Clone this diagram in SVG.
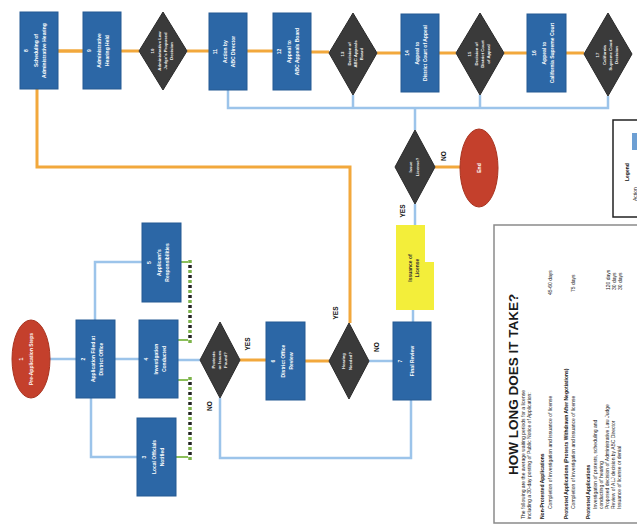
<svg xmlns="http://www.w3.org/2000/svg" width="637" height="528" viewBox="0 0 637 528">
<style>
.box{fill:#2c67a6;stroke:#245a93;stroke-width:1}
.dia{fill:#3a3a3a;stroke:#2a2a2a;stroke-width:1}
.oval{fill:#c4402c;stroke:#a8331f;stroke-width:1}
.note{fill:#f3ee3a}
.nt{font-family:"Liberation Sans",Arial,sans-serif;font-size:5px;font-weight:bold;fill:#fff;text-anchor:middle}
.dt{font-family:"Liberation Sans",Arial,sans-serif;font-size:4.3px;font-weight:bold;fill:#eee;text-anchor:middle}
.yt{font-family:"Liberation Sans",Arial,sans-serif;font-size:5px;font-weight:bold;fill:#333;text-anchor:middle}
.lbl{font-family:"Liberation Sans",Arial,sans-serif;font-size:6.5px;font-weight:bold;fill:#111;text-anchor:middle}
.or{fill:none;stroke:#f2a83c;stroke-width:3}
.bl{fill:none;stroke:#9cc4ea;stroke-width:2.5}
.gd{fill:none;stroke:#7cb34a;stroke-width:3.5;stroke-dasharray:3 7}
.kd{fill:none;stroke:#222;stroke-width:3.5;stroke-dasharray:3 7;stroke-dashoffset:-5}
.gs{fill:none;stroke:#8cbf5a;stroke-width:2}
.pt{font-family:"Liberation Sans",Arial,sans-serif;font-size:5px;fill:#222}
.pb{font-family:"Liberation Sans",Arial,sans-serif;font-size:5px;font-weight:bold;fill:#111}
.ttl{font-family:"Liberation Sans",Arial,sans-serif;font-size:13.5px;font-weight:bold;fill:#1a1a1a}
</style>
<rect width="637" height="528" fill="#fff"/>

<g id="connectors">
  <!-- top row orange -->
  <path class="or" d="M58 51 H139 M121 51 H139 M187 51 H209 M247 51 H273 M311 52 H329 M377 53 H401 M439 53 H456 M504 53 H527 M566 53 H584"/>
  <path class="or" d="M58 51 H83"/>
  <!-- hearing loop orange -->
  <path class="or" d="M37 89 V167 H350 V323"/>
  <!-- top blue -->
  <path class="bl" d="M228 90 V108 H608 V96 M353 95 V108 M480 95 V108 M415 108 V130"/>
  <!-- middle blue -->
  <path class="bl" d="M50 359 H76 M115 359 H139 M178 360 H200"/>
  <path class="bl" d="M95 320 V262 H142"/>
  <path class="bl" d="M91 398 V457 H137"/>
  <path class="bl" d="M220 398 V458 H411 V400"/>
  <path class="bl" d="M369 361 H393"/>
  <path class="bl" d="M413 322 V310"/>
  <path class="bl" d="M415 204 V225"/>
  <!-- middle orange -->
  <path class="or" d="M240 360 H266 M305 361 H329 M435 167 H460"/>
  <!-- green dotted -->
  <path class="gd" d="M190 260 V343 M190 377 V460"/>
  <path class="kd" d="M190 260 V343 M190 377 V460"/>
  <path class="gs" d="M181 262 H188 M178 340 H188 M178 380 H188 M176 457 H188"/>
  <!-- labels -->
  <text class="lbl" transform="translate(250 344) rotate(-90)">YES</text>
  <text class="lbl" transform="translate(212 406) rotate(-90)">NO</text>
  <text class="lbl" transform="translate(338 313) rotate(-90)">YES</text>
  <text class="lbl" transform="translate(379 347) rotate(-90)">NO</text>
  <text class="lbl" transform="translate(405 211) rotate(-90)">YES</text>
  <text class="lbl" transform="translate(446 156) rotate(-90)">NO</text>
</g>

<g id="n1"><ellipse class="oval" cx="31" cy="359" rx="19" ry="39"/>
<text class="nt" transform="translate(31 359) rotate(-90)"><tspan x="0" y="-8">1</tspan><tspan x="0" y="2">Pre-Application Steps</tspan></text></g>

<g id="n2"><rect class="box" x="76" y="320" width="39" height="78"/>
<text class="nt" transform="translate(95.5 359) rotate(-90)"><tspan x="0" y="-11">2</tspan><tspan x="0" y="-1">Application Filed at</tspan><tspan x="0" y="7">District Office</tspan></text></g>

<g id="n3"><rect class="box" x="137" y="418" width="39" height="78"/>
<text class="nt" transform="translate(156.5 457) rotate(-90)"><tspan x="0" y="-11">3</tspan><tspan x="0" y="-1">Local Officials</tspan><tspan x="0" y="7">Notified</tspan></text></g>

<g id="n4"><rect class="box" x="139" y="320" width="39" height="78"/>
<text class="nt" transform="translate(158.5 359) rotate(-90)"><tspan x="0" y="-11">4</tspan><tspan x="0" y="-1">Investigation</tspan><tspan x="0" y="7">Conducted</tspan></text></g>

<g id="n5"><rect class="box" x="142" y="223" width="39" height="79"/>
<text class="nt" transform="translate(161.5 262.5) rotate(-90)"><tspan x="0" y="-11">5</tspan><tspan x="0" y="-1">Applicant's</tspan><tspan x="0" y="7">Responsibilities</tspan></text></g>

<g id="dA"><polygon class="dia" points="220,322 240,360 220,398 200,360"/>
<text class="dt" transform="translate(220 360) rotate(-90)"><tspan x="0" y="-5">Protests</tspan><tspan x="0" y="1">or Issues</tspan><tspan x="0" y="7">Found?</tspan></text></g>

<g id="n6"><rect class="box" x="266" y="322" width="39" height="78"/>
<text class="nt" transform="translate(285.5 361) rotate(-90)"><tspan x="0" y="-11">6</tspan><tspan x="0" y="-1">District Office</tspan><tspan x="0" y="7">Review</tspan></text></g>

<g id="dB"><polygon class="dia" points="349,323 369,361 349,399 329,361"/>
<text class="dt" transform="translate(349 361) rotate(-90)"><tspan x="0" y="-4">Hearing</tspan><tspan x="0" y="3">Needed?</tspan></text></g>

<g id="n7"><rect class="box" x="393" y="322" width="38" height="78"/>
<text class="nt" transform="translate(412 361) rotate(-90)"><tspan x="0" y="-10">7</tspan><tspan x="0" y="2">Final Review</tspan></text></g>

<g id="n7b"><polygon class="note" points="396,225 425,225 425,262 434,262 434,310 396,310"/>
<text class="yt" transform="translate(414 268) rotate(-90)"><tspan x="0" y="-2">Issuance of</tspan><tspan x="0" y="5">License</tspan></text></g>

<g id="dC"><polygon class="dia" points="415,130 435,167 415,204 395,167"/>
<text class="dt" transform="translate(415 167) rotate(-90)"><tspan x="0" y="-3">Issue</tspan><tspan x="0" y="4">License?</tspan></text></g>

<g id="end"><ellipse class="oval" cx="479" cy="168" rx="19" ry="39"/>
<text class="nt" transform="translate(479 168) rotate(-90)"><tspan x="0" y="2">End</tspan></text></g>

<g id="n8"><rect class="box" x="20" y="12" width="38" height="77"/>
<text class="nt" transform="translate(39 50.5) rotate(-90)"><tspan x="0" y="-11">8</tspan><tspan x="0" y="-1">Scheduling of</tspan><tspan x="0" y="7">Administrative Hearing</tspan></text></g>

<g id="n9"><rect class="box" x="83" y="12" width="38" height="77"/>
<text class="nt" transform="translate(102 50.5) rotate(-90)"><tspan x="0" y="-11">9</tspan><tspan x="0" y="-1">Administrative</tspan><tspan x="0" y="7">Hearing Held</tspan></text></g>

<g id="n10"><polygon class="dia" points="163,12 187,51 163,90 139,51"/>
<text class="dt" transform="translate(163 51) rotate(-90)"><tspan x="0" y="-9">10</tspan><tspan x="0" y="-2">Administrative Law</tspan><tspan x="0" y="4">Judge's Proposed</tspan><tspan x="0" y="10">Decision</tspan></text></g>

<g id="n11"><rect class="box" x="209" y="13" width="38" height="77"/>
<text class="nt" transform="translate(228 51.5) rotate(-90)"><tspan x="0" y="-11">11</tspan><tspan x="0" y="-1">Action by</tspan><tspan x="0" y="7">ABC Director</tspan></text></g>

<g id="n12"><rect class="box" x="273" y="13" width="38" height="77"/>
<text class="nt" transform="translate(292 51.5) rotate(-90)"><tspan x="0" y="-11">12</tspan><tspan x="0" y="-1">Appeal to</tspan><tspan x="0" y="7">ABC Appeals Board</tspan></text></g>

<g id="n13"><polygon class="dia" points="353,13 377,53 353,95 329,53"/>
<text class="dt" transform="translate(353 54) rotate(-90)"><tspan x="0" y="-9">13</tspan><tspan x="0" y="-2">Decision of</tspan><tspan x="0" y="4">ABC Appeals</tspan><tspan x="0" y="10">Board</tspan></text></g>

<g id="n14"><rect class="box" x="401" y="14" width="38" height="78"/>
<text class="nt" transform="translate(420 53) rotate(-90)"><tspan x="0" y="-11">14</tspan><tspan x="0" y="-1">Appeal to</tspan><tspan x="0" y="7">District Court of Appeal</tspan></text></g>

<g id="n15"><polygon class="dia" points="480,13 504,53 480,95 456,53"/>
<text class="dt" transform="translate(480 54) rotate(-90)"><tspan x="0" y="-9">15</tspan><tspan x="0" y="-2">Decision of</tspan><tspan x="0" y="4">District Court</tspan><tspan x="0" y="10">of Appeal</tspan></text></g>

<g id="n16"><rect class="box" x="527" y="14" width="39" height="78"/>
<text class="nt" transform="translate(546.5 53) rotate(-90)"><tspan x="0" y="-11">16</tspan><tspan x="0" y="-1">Appeal to</tspan><tspan x="0" y="7">California Supreme Court</tspan></text></g>

<g id="n17"><polygon class="dia" points="608,13 632,54 608,96 584,54"/>
<text class="dt" transform="translate(608 55) rotate(-90)"><tspan x="0" y="-9">17</tspan><tspan x="0" y="-2">California</tspan><tspan x="0" y="4">Supreme Court</tspan><tspan x="0" y="10">Decision</tspan></text></g>

<g id="legend">
  <rect x="613" y="120" width="40" height="97" fill="#fff" stroke="#222" stroke-width="1.5"/>
  <rect x="632" y="133" width="7" height="17" fill="#6d9fd3"/>
  <text class="pb" transform="translate(629 181) rotate(-90)">Legend</text>
  <text class="pt" transform="translate(637 201) rotate(-90)">Action</text>
</g>

<g id="timing">
  <rect x="494" y="225" width="150" height="298" fill="#fff" stroke="#8a8a8a" stroke-width="1.5"/>
  <text class="ttl" transform="translate(518 475) rotate(-90)">HOW LONG DOES IT TAKE?</text>
  <text class="pt" transform="translate(525 519) rotate(-90)">The following are the average waiting periods for a license</text>
  <text class="pt" transform="translate(531 519) rotate(-90)">including a 30-day posting of Public Notice of Application:</text>
  <text class="pb" transform="translate(544 519) rotate(-90)">Non-Protested Applications</text>
  <text class="pt" transform="translate(552 509) rotate(-90)">Completion of investigation and issuance of license</text>
  <text class="pt" transform="translate(552 295) rotate(-90)">45-60 days</text>
  <text class="pb" transform="translate(568 519) rotate(-90)">Protested Applications (Protests Withdrawn After Negotiations)</text>
  <text class="pt" transform="translate(575 509) rotate(-90)">Completion of investigation and issuance of license</text>
  <text class="pt" transform="translate(575 292) rotate(-90)">75 days</text>
  <text class="pb" transform="translate(590 519) rotate(-90)">Protested Applications</text>
  <text class="pt" transform="translate(597 509) rotate(-90)">Investigation of protests, scheduling and</text>
  <text class="pt" transform="translate(603 509) rotate(-90)">conducting of hearing</text>
  <text class="pt" transform="translate(609 509) rotate(-90)">Proposed decision of Administrative Law Judge</text>
  <text class="pt" transform="translate(615 509) rotate(-90)">Review of ALJ decision by ABC Director</text>
  <text class="pt" transform="translate(621 509) rotate(-90)">Issuance of license or denial</text>
  <text class="pt" transform="translate(610 290) rotate(-90)">120 days</text>
  <text class="pt" transform="translate(616 290) rotate(-90)">30 days</text>
  <text class="pt" transform="translate(622 290) rotate(-90)">30 days</text>
</g>
</svg>
